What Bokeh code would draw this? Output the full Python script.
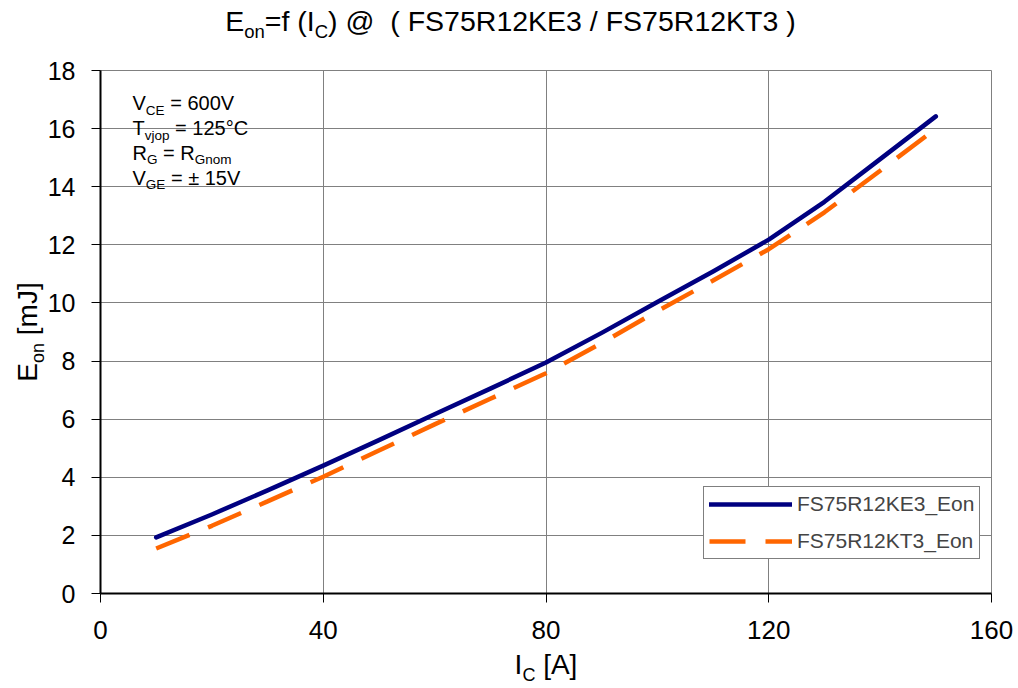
import math
from bokeh.plotting import figure
from bokeh.models import Label, Legend, LegendItem, FixedTicker, Grid, BoxAnnotation
from bokeh.embed import file_html
from bokeh.resources import INLINE

# ---------------- data ----------------
ic_ke3 = [10, 20, 30, 40, 50, 60, 70, 80, 90, 100, 110, 120, 130, 140, 150]
eon_ke3 = [1.93, 2.72, 3.55, 4.40, 5.28, 6.17, 7.05, 7.95, 8.97, 10.03, 11.08, 12.18, 13.48, 14.95, 16.42]
ic_kt3 = [10, 20, 30, 40, 50, 60, 70, 80, 90, 100, 110, 120, 130, 140, 150]
eon_kt3 = [1.55, 2.33, 3.17, 4.02, 4.92, 5.82, 6.70, 7.58, 8.62, 9.72, 10.77, 11.85, 13.12, 14.55, 16.0]
series_names = ["FS75R12KE3_Eon", "FS75R12KT3_Eon"]
x_ticks = [0, 40, 80, 120, 160]
y_ticks = [0, 2, 4, 6, 8, 10, 12, 14, 16, 18]

FONT = "Liberation Sans"
W, H = 1018, 688
# plot area (canvas px) that holds the data window
PL, PT, PW, PH = 100, 70, 891, 523
X0, X1, Y0, Y1 = 0, 160, 0, 18
sx = PW / (X1 - X0)
sy = PH / (Y1 - Y0)
# frame covers the whole canvas; axes sit at fixed locations
xr = (X0 - PL / sx, X0 + (W - PL) / sx)
yr = (Y0 - (H - PT - PH) / sy, Y0 + (PT + PH) / sy)

p = figure(width=W, height=H, x_range=xr, y_range=yr,
           output_backend="svg", toolbar_location=None,
           min_border=0, min_border_left=0, min_border_right=0,
           min_border_top=0, min_border_bottom=0,
           background_fill_color="white", border_fill_color="white",
           outline_line_color=None)
p.title = None

# grid
for g in (p.xgrid, p.ygrid):
    g.grid_line_color = "#808080"
    g.grid_line_width = 1
p.xgrid.ticker = FixedTicker(ticks=x_ticks)
p.ygrid.ticker = FixedTicker(ticks=y_ticks)
if "cross_bounds" in Grid.properties():
    p.xgrid.cross_bounds = (Y0, Y1)
    p.ygrid.cross_bounds = (X0, X1)
    p.xgrid.bounds = (X0, X1)
    p.ygrid.bounds = (Y0, Y1)
else:
    for kw in (dict(right=X0), dict(left=X1), dict(top=Y0), dict(bottom=Y1)):
        p.add_layout(BoxAnnotation(fill_color="white", fill_alpha=1, line_color=None,
                                   level="glyph", **kw))

p.xaxis.ticker = FixedTicker(ticks=x_ticks)
p.yaxis.ticker = FixedTicker(ticks=y_ticks)
p.xaxis.fixed_location = Y0
p.yaxis.fixed_location = X0
p.xaxis.bounds = (X0, X1)
p.yaxis.bounds = (Y0, Y1)
for ax in (p.xaxis, p.yaxis):
    ax.axis_line_color = "black"
    ax.axis_line_width = 2
    ax.major_tick_line_color = "black"
    ax.major_tick_line_width = 1
    ax.major_tick_out = 9
    ax.major_tick_in = 0
    ax.minor_tick_line_color = None
    ax.major_label_text_font = FONT
    ax.major_label_text_color = "black"
p.xaxis.major_label_text_font_size = "26px"
p.yaxis.major_label_text_font_size = "25px"
p.xaxis.major_label_standoff = 18
p.yaxis.major_label_standoff = 16

# series
r1 = p.line(ic_ke3, eon_ke3, line_color="#000080", line_width=4.5, line_cap="round", line_join="round")
r2 = p.line(ic_kt3, eon_kt3, line_color="#FF6600", line_width=4.5, line_dash="36 20", line_cap="butt")

legend = Legend(items=[LegendItem(label=series_names[0], renderers=[r1]),
                       LegendItem(label=series_names[1], renderers=[r2])],
                location=(703, H - 559), border_line_color="black", border_line_width=1,
                background_fill_color="white", background_fill_alpha=1.0,
                padding=5, spacing=13, margin=0, glyph_width=83, glyph_height=20,
                label_standoff=5, label_text_font=FONT, label_text_font_size="21px",
                label_height=20)
p.add_layout(legend, "center")

# ---------------- rich text helpers ----------------
AW = {' ': 278, '(': 333, ')': 333, '[': 278, ']': 278, '/': 278, '=': 584, '@': 1015,
      '_': 556, '°': 400, '±': 584, '.': 278}
for d in "0123456789":
    AW[d] = 556
AW.update(dict(A=667, B=667, C=722, D=722, E=667, F=611, G=778, H=722, I=278, J=500, K=667,
               L=556, M=833, N=722, O=778, P=667, Q=778, R=722, S=667, T=611, U=722, V=667,
               W=944, X=667, Y=667, Z=611))
AW.update(dict(a=556, b=556, c=500, d=556, e=556, f=278, g=556, h=556, i=222, j=222, k=500,
               l=222, m=833, n=556, o=556, p=556, q=556, r=333, s=500, t=278, u=556, v=500,
               w=722, x=500, y=500, z=500))
BASE_FIX = 0.45  # em; lift so that the glyph baseline lands on the anchor


def tw(s, size):
    return sum(AW.get(c, 556) for c in s) * size / 1000.0


def xd(px):  # canvas x -> data
    return X0 + (px - PL) / sx


def yd(py):  # canvas y -> data
    return Y0 + (PT + PH - py) / sy


def total_width(parts):
    return sum(tw(t, s) for t, s, _ in parts)


def rich(parts, px, py, vertical=False):
    pos = 0.0
    for text, size, shift in parts:
        lead = len(text) - len(text.lstrip(' '))
        trail = len(text) - len(text.rstrip(' '))
        core = text.strip(' ')
        pos += lead * 0.278 * size
        fix = BASE_FIX * size
        if vertical:
            lab = Label(x=xd(px), y=yd(py), x_offset=shift - fix, y_offset=pos, text=core,
                        angle=math.pi / 2, text_font=FONT, text_font_size=f"{size}px",
                        text_align="left", text_baseline="alphabetic", text_color="black")
        else:
            lab = Label(x=xd(px), y=yd(py), x_offset=pos, y_offset=fix - shift, text=core,
                        text_font=FONT, text_font_size=f"{size}px",
                        text_align="left", text_baseline="alphabetic", text_color="black")
        p.add_layout(lab)
        pos += tw(core, size) + trail * 0.278 * size


# title
title_parts = [("E", 28.5, 0), ("on", 18.5, 6), ("=f (I", 28.5, 0), ("C", 18.5, 6),
               (") @  ", 28.5, 0), ("( FS75R12KE3 / FS75R12KT3 )", 28.5, 0)]
rich(title_parts, 510 - total_width(title_parts) / 2, 33.5)

# axis labels
xl_parts = [("I", 28, 0), ("C", 18, 6), (" [A]", 28, 0)]
rich(xl_parts, 545.5 - total_width(xl_parts) / 2, 677)
yl_parts = [("E", 28, 0), ("on", 18, 6), (" [mJ]", 28, 0)]
rich(yl_parts, 40, 331.5 + total_width(yl_parts) / 2, vertical=True)

# conditions box
cond_lines = [
    [("V", 20, 0), ("CE", 13.5, 4), (" = 600V", 20, 0)],
    [("T", 20, 0), ("vjop", 13.5, 4), (" = 125°C", 20, 0)],
    [("R", 20, 0), ("G", 13.5, 4), (" = R", 20, 0), ("Gnom", 13.5, 4)],
    [("V", 20, 0), ("GE", 13.5, 4), (" = ± 15V", 20, 0)],
]
for i, parts in enumerate(cond_lines):
    rich(parts, 132, 111.7 + i * 24.9)

open("out.html", "w").write(file_html(p, INLINE))
